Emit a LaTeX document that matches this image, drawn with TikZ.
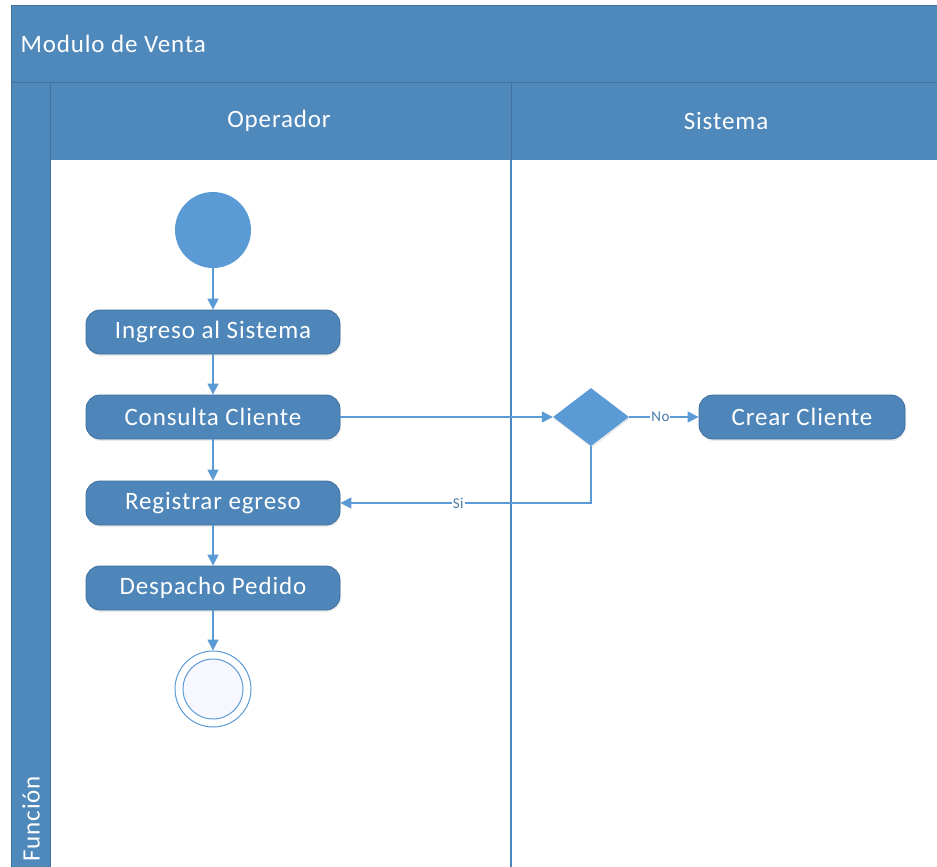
\documentclass[tikz,border=0pt]{standalone}
\usepackage{fontspec}
\setmainfont{Carlito}[LetterSpace=3.5]
\usetikzlibrary{arrows.meta,shapes.geometric,shadows}
\definecolor{band}{HTML}{4F88BB}
\definecolor{bandline}{HTML}{41719C}
\definecolor{actfill}{HTML}{4E86BA}
\definecolor{actline}{HTML}{3E6E9E}
\definecolor{flow}{HTML}{5B9BD5}
\definecolor{lane}{HTML}{4A86C2}
\tikzset{
  act/.style={rounded corners=14pt, minimum width=254pt, minimum height=44pt, fill=actfill, draw=actline, line width=0.8pt, text=white, font=\fontsize{25}{28}\selectfont, drop shadow={shadow xshift=1pt, shadow yshift=-2pt, opacity=0.15}},
  flowline/.style={draw=flow, line width=1.4pt, -{Triangle[length=11pt,width=11pt]}},
  lbl/.style={fill=white, text=flow!80!black, inner sep=1pt, font=\fontsize{15}{16}\selectfont},
  hdr/.style={text=white, font=\fontsize{25}{28}\selectfont}
}
\begin{document}
\begin{tikzpicture}[x=1pt,y=-1pt]
\useasboundingbox (0,0) rectangle (937,867);
\clip (0,0) rectangle (937,867);
\fill[white] (0,0) rectangle (937,867);
% pool
\fill[band] (11,5) rectangle (950,82);
\fill[band] (11,82) rectangle (50,880);
\fill[band] (50,82) rectangle (950,160);
\draw[bandline, line width=0.8pt] (11,880) -- (11,5) -- (950,5);
\draw[bandline, line width=0.8pt] (11,82) -- (950,82);
\draw[bandline, line width=0.8pt] (50,82) -- (50,880);
\draw[bandline, line width=0.8pt] (511,82) -- (511,160);
\draw[lane, line width=1.2pt] (511,160) -- (511,880);
\node[hdr, anchor=west] (title) at (17,44) {Modulo de Venta};
\node[hdr] (op) at (279,121) {Operador};
\node[hdr] (sis) at (726,121) {Sistema};
\node[hdr, rotate=90, anchor=west] (fun) at (31,865) {Función};
% activities
\node[circle, fill=flow, minimum size=76pt, inner sep=0pt] (start) at (213,230) {};
\node[act] (ing) at (213,332) {Ingreso al Sistema};
\node[act] (con) at (213,417) {Consulta Cliente};
\node[act] (reg) at (213,503) {Registrar egreso};
\node[act] (des) at (213,588) {Despacho Pedido};
\node[circle, draw=flow, line width=1pt, minimum size=76pt, inner sep=0pt, fill=white] (end) at (213,689) {};
\node[circle, draw=flow, line width=1pt, minimum size=60pt, inner sep=0pt, fill=blue!3] (endin) at (213,689) {};
\node[diamond, fill=flow, minimum width=76pt, minimum height=58pt, inner sep=0pt, aspect=1.3, drop shadow={shadow xshift=1pt, shadow yshift=-2pt, opacity=0.15}] (dec) at (591,417) {};
\node[act, minimum width=206pt] (cre) at (802,417) {Crear Cliente};
% flows
\draw[flowline] (start) -- (ing);
\draw[flowline] (ing) -- (con);
\draw[flowline] (con) -- (reg);
\draw[flowline] (reg) -- (des);
\draw[flowline] (des) -- (end);
\draw[flowline] (con) -- (dec);
\draw[flowline] (dec) -- node[lbl, pos=0.45] {No} (cre);
\coordinate (si) at (dec.south |- reg.east);
\draw[flowline] (dec.south) -- (si) -- node[lbl, pos=0.53] {Si} (reg.east);
\end{tikzpicture}
\end{document}
